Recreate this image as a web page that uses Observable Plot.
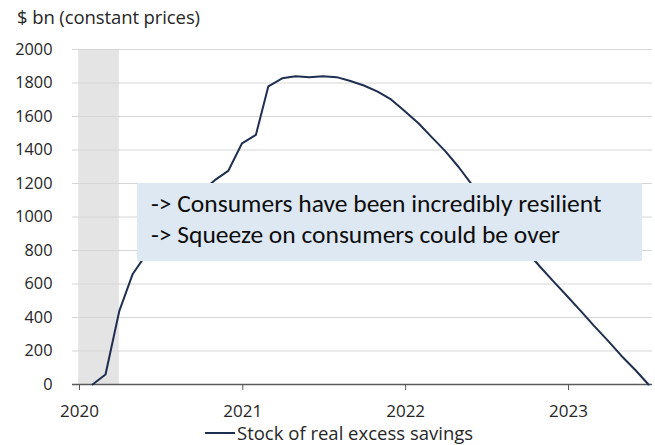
<!DOCTYPE html>
<html><head><meta charset="utf-8">
<script src="https://cdn.jsdelivr.net/npm/d3@7"></script>
<script src="https://cdn.jsdelivr.net/npm/@observablehq/plot@0.6"></script>
<style>
body{margin:0;background:#fff;}
#wrap{position:relative;width:655px;height:445px;font-family:"Open Sans",sans-serif;color:#262626;overflow:hidden;}
#title{position:absolute;left:17px;top:4px;font-size:18.5px;line-height:26px;white-space:nowrap;letter-spacing:-0.1px;}
#chart{position:absolute;left:0;top:0;}
#note{position:absolute;left:137px;top:183px;width:505px;height:78px;background:#dde8f3;font-family:Carlito,"Liberation Sans",sans-serif;font-size:25.5px;color:#0d0d0d;box-sizing:border-box;padding:5px 0 0 14px;line-height:31px;white-space:nowrap;}
#legend{position:absolute;left:205px;top:422px;font-size:18.5px;line-height:22px;white-space:nowrap;display:flex;align-items:center;}
#legend .sw{display:inline-block;width:30px;height:0;border-top:2px solid #1f2f4f;margin-right:2px;}
</style></head><body>
<div id="wrap">
  <div id="chart"></div>
  <div id="title">$ bn (constant prices)</div>
  <div id="note">-&gt; Consumers have been incredibly resilient<br>-&gt; Squeeze on consumers could be over</div>
  <div id="legend"><span class="sw"></span><span id="legtext">Stock of real excess savings</span></div>
</div>
<script>
// Monthly stock of real excess savings, $bn (constant prices)
const months = [
  "2020-02","2020-03","2020-04","2020-05","2020-06","2020-07","2020-08","2020-09","2020-10","2020-11","2020-12",
  "2021-01","2021-02","2021-03","2021-04","2021-05","2021-06","2021-07","2021-08","2021-09","2021-10","2021-11","2021-12",
  "2022-01","2022-02","2022-03","2022-04","2022-05","2022-06","2022-07","2022-08","2022-09","2022-10","2022-11","2022-12",
  "2023-01","2023-02","2023-03","2023-04","2023-05","2023-06","2023-07"
];
const savings = [
  0, 60, 440, 660, 780, 890, 985, 1065, 1150, 1220, 1275,
  1440, 1490, 1780, 1828, 1840, 1835, 1840, 1835, 1812, 1785, 1748, 1702,
  1632, 1558, 1480, 1395, 1300, 1190, 1090, 995, 895, 795, 700, 613,
  524, 434, 350, 262, 172, 88, 0
];
const recessionStart = ["2020-01-15"];
const recessionEnd = ["2020-04-15"];
const yTicks = [0, 200, 400, 600, 800, 1000, 1200, 1400, 1600, 1800, 2000];
const xTicks = ["2020", "2021", "2022", "2023"];
const seriesName = "Stock of real excess savings";

const parseM = d3.utcParse("%Y-%m");
const data = months.map((m, i) => ({date: d3.utcDay.offset(parseM(m), 14), value: savings[i]}));
const band = recessionStart.map((s, i) => ({x1: new Date(s), x2: new Date(recessionEnd[i])}));
const yearDates = xTicks.map(y => d3.utcParse("%Y")(y));

const chart = Plot.plot({
  width: 655,
  height: 445,
  marginLeft: 72,
  marginRight: 3,
  marginTop: 49,
  marginBottom: 61,
  style: {fontFamily: "'Open Sans', sans-serif", fontSize: "16px", color: "#262626", background: "transparent"},
  x: {type: "utc", domain: [new Date("2020-01-01"), new Date("2023-07-24")]},
  y: {domain: [0, 2000]},
  marks: [
    Plot.rect(band, {x1: "x1", x2: "x2", y1: 0, y2: 2000, fill: "#e4e4e4"}),
    Plot.gridY(yTicks.filter(d => d > 0), {stroke: "#d6d6d6", strokeOpacity: 1, strokeWidth: 1}),
    Plot.axisY(yTicks, {tickSize: 0, tickPadding: 20, label: null, fontSize: 16.3, tickFormat: d => String(d)}),
    Plot.ruleY([0], {stroke: "#5a5a5a", strokeWidth: 1.3}),
    Plot.axisX(yearDates, {tickSize: 6, tickPadding: 14, stroke: "#5a5a5a", tickFormat: d3.utcFormat("%Y"), label: null, dx: 7, fontSize: 17}),
    Plot.line(data, {x: "date", y: "value", stroke: "#1f2f4f", strokeWidth: 2})
  ]
});
document.getElementById("chart").appendChild(chart);
document.getElementById("legtext").textContent = seriesName;
</script>
</body></html>
